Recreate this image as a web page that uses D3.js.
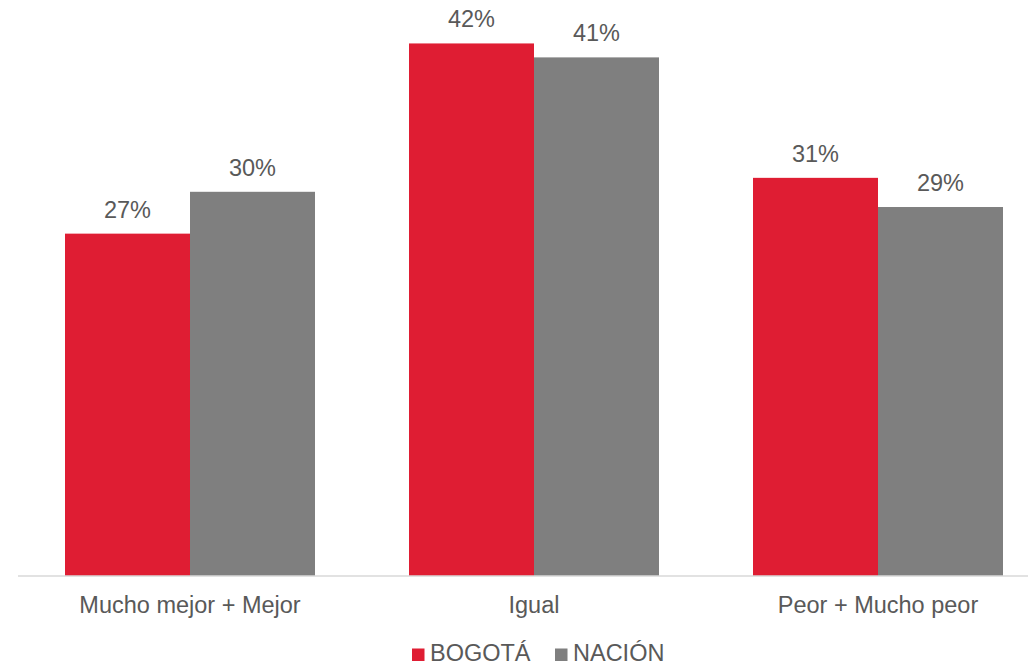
<!DOCTYPE html>
<html><head><meta charset="utf-8">
<script src="https://cdn.jsdelivr.net/npm/d3@7"></script>
<style>body{margin:0;background:#fff}svg{display:block}text{font-family:"Liberation Sans",Arial,sans-serif}</style>
</head><body>
<script>
const categories = ["Mucho mejor + Mejor", "Igual", "Peor + Mucho peor"];
const seriesNames = ["BOGOTÁ", "NACIÓN"];
const bogota = [27.0, 42.0, 31.4];
const nacion = [30.3, 40.9, 29.1];
const seriesColors = ["#DF1D33", "#7F7F7F"];

const W = 1028, H = 666;
const svg = d3.select("body").append("svg").attr("width", W).attr("height", H);

const baseY = 576;
const x = d3.scaleBand().domain(categories).range([18, 1050]).paddingInner(0).paddingOuter(0);
const gap = 47;
const xs = d3.scaleBand().domain(seriesNames).range([gap, x.bandwidth() - gap]).padding(0);
const y = d3.scaleLinear().domain([0, 45]).range([baseY, baseY - 45 * 12.68]);

const data = categories.map((c, i) => ({cat: c, vals: [bogota[i], nacion[i]]}));

const g = svg.append("g");
const groups = g.selectAll("g.cat").data(data).join("g").attr("class", "cat")
  .attr("transform", d => `translate(${x(d.cat)},0)`);

groups.selectAll("rect").data(d => d.vals.map((v, j) => ({s: seriesNames[j], v, j})))
  .join("rect")
  .attr("x", d => xs(d.s)).attr("width", xs.bandwidth())
  .attr("y", d => y(d.v)).attr("height", d => baseY - y(d.v))
  .attr("fill", d => seriesColors[d.j]);

groups.selectAll("text.lbl").data(d => d.vals.map((v, j) => ({s: seriesNames[j], v, j})))
  .join("text").attr("class", "lbl")
  .attr("x", d => xs(d.s) + xs.bandwidth() / 2).attr("y", d => y(d.v) - 16)
  .attr("text-anchor", "middle").attr("font-size", 23.5).attr("fill", "#595959")
  .text(d => Math.round(d.v) + "%");

// axis
const axis = d3.axisBottom(x).tickSize(0).tickPadding(0);
const ax = svg.append("g").attr("transform", `translate(0,${baseY})`).call(axis);
ax.select(".domain").attr("stroke", "#D9D9D9").attr("stroke-width", 1.5).attr("d", `M18,0H1050`);
ax.selectAll(".tick text").attr("font-size", 23.5).attr("fill", "#595959").attr("dy", null).attr("y", 36.5)
  .style("font-family", '"Liberation Sans",Arial,sans-serif');

// legend
const legendItems = [{name: seriesNames[0], x: 412}, {name: seriesNames[1], x: 555}];
const leg = svg.append("g");
legendItems.forEach((it, i) => {
  leg.append("rect").attr("x", it.x).attr("y", 648.5).attr("width", 12.5).attr("height", 12.5).attr("fill", seriesColors[i]);
  leg.append("text").attr("x", it.x + 18).attr("y", 661).attr("font-size", 23.5).attr("fill", "#595959").text(it.name);
});
</script>
</body></html>
